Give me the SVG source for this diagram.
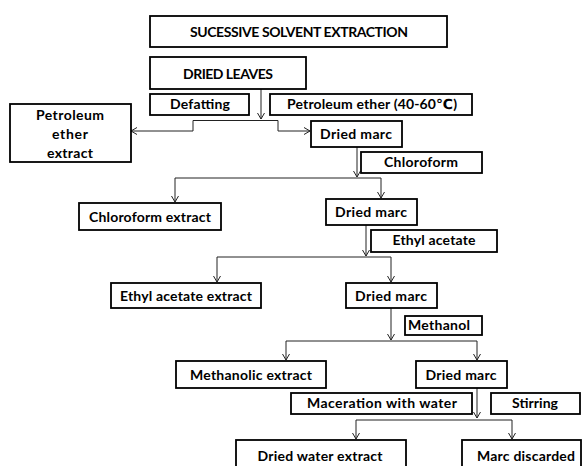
<svg xmlns="http://www.w3.org/2000/svg" width="586" height="466" viewBox="0 0 586 466">
<style>
rect{fill:#fff;stroke:#000;stroke-width:1.8}
text{font-family:Lato,"Liberation Sans","DejaVu Sans",sans-serif;font-weight:bold;font-size:14px;text-anchor:middle;fill:#000}
.c path{fill:none;stroke:#222;stroke-width:1}
</style>
<defs>
<marker id="ah" markerUnits="userSpaceOnUse" markerWidth="8" markerHeight="9" refX="6.5" refY="4" orient="auto">
<path d="M0.5,0.5 L6.5,4 L0.5,7.5" fill="none" stroke="#222" stroke-width="1"/>
</marker>
</defs>
<g class="c" id="connectors">
<path d="M261,89 V119" marker-end="url(#ah)"/>
<path d="M193,120.5 H278"/>
<path d="M193,120.5 V131 H131" marker-end="url(#ah)"/>
<path d="M278,120.5 V131 H310" marker-end="url(#ah)"/>
<path d="M357,147 V177" marker-end="url(#ah)"/>
<path d="M175,178 H381"/>
<path d="M175,178 V202" marker-end="url(#ah)"/>
<path d="M381,178 V198" marker-end="url(#ah)"/>
<path d="M366,225 V256" marker-end="url(#ah)"/>
<path d="M217,257 H391"/>
<path d="M217,257 V282" marker-end="url(#ah)"/>
<path d="M391,257 V282" marker-end="url(#ah)"/>
<path d="M391,308 V340" marker-end="url(#ah)"/>
<path d="M286,341 H477"/>
<path d="M286,341 V360" marker-end="url(#ah)"/>
<path d="M477,341 V360" marker-end="url(#ah)"/>
<path d="M477,388 V418" marker-end="url(#ah)"/>
<path d="M356,420 H512"/>
<path d="M356,420 V439" marker-end="url(#ah)"/>
<path d="M512,420 V439" marker-end="url(#ah)"/>
</g>
<g id="title"><rect x="150" y="16" width="297" height="31"/><text x="299" y="37" textLength="218">SUCESSIVE SOLVENT EXTRACTION</text></g>
<g id="dried-leaves"><rect x="150" y="57" width="156" height="32"/><text x="228" y="79" textLength="90">DRIED LEAVES</text></g>
<g id="defatting"><rect x="150" y="94" width="99" height="21"/><text x="200" y="109" textLength="60">Defatting</text></g>
<g id="pet-ether"><rect x="270" y="94" width="202" height="21"/><text x="372" y="109" textLength="170">Petroleum ether (40-60℃)</text></g>
<g id="pet-extract"><rect x="10" y="104" width="121" height="58"/><text x="70" y="120" textLength="68">Petroleum</text><text x="70" y="139" textLength="36">ether</text><text x="70" y="158" textLength="46">extract</text></g>
<g id="marc1"><rect x="311" y="121" width="91" height="26"/><text x="356" y="139" textLength="72">Dried marc</text></g>
<g id="chloroform"><rect x="361" y="152" width="121" height="21"/><text x="421" y="167" textLength="74">Chloroform</text></g>
<g id="chloroform-extract"><rect x="79" y="203" width="142" height="27"/><text x="150" y="222" textLength="122">Chloroform extract</text></g>
<g id="marc2"><rect x="326" y="199" width="91" height="26"/><text x="371" y="217" textLength="72">Dried marc</text></g>
<g id="ethyl"><rect x="371" y="230" width="126" height="22"/><text x="434" y="245" textLength="83">Ethyl acetate</text></g>
<g id="ethyl-extract"><rect x="111" y="283" width="150" height="25"/><text x="186" y="301" textLength="132">Ethyl acetate extract</text></g>
<g id="marc3"><rect x="346" y="283" width="91" height="25"/><text x="391" y="301" textLength="72">Dried marc</text></g>
<g id="methanol"><rect x="405" y="316" width="77" height="19"/><text x="439" y="330" textLength="62">Methanol</text></g>
<g id="methanolic-extract"><rect x="176" y="361" width="150" height="27"/><text x="251" y="380" textLength="122">Methanolic extract</text></g>
<g id="marc4"><rect x="416" y="361" width="91" height="27"/><text x="461" y="380" textLength="71">Dried marc</text></g>
<g id="maceration"><rect x="291" y="393" width="181" height="21"/><text x="382" y="408" textLength="150">Maceration with water</text></g>
<g id="stirring"><rect x="491" y="393" width="89" height="21"/><text x="535" y="408" textLength="46">Stirring</text></g>
<g id="water-extract"><rect x="236" y="440" width="170" height="32"/><text x="320" y="461" textLength="125">Dried water extract</text></g>
<g id="marc-discarded"><rect x="462" y="440" width="119" height="32"/><text x="526" y="461" textLength="98">Marc discarded</text></g>
</svg>
